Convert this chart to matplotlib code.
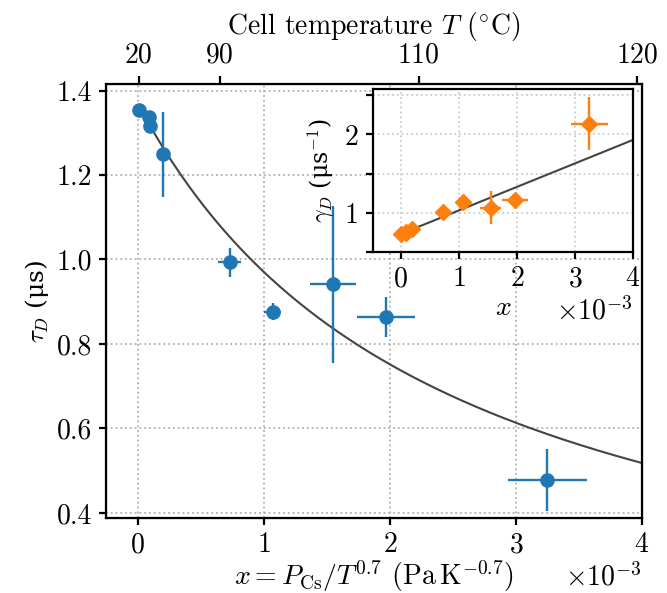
import matplotlib
matplotlib.use("Agg")
import matplotlib.pyplot as plt
import numpy as np

plt.rcParams['font.family'] = ['cmr10', 'DejaVu Serif']
plt.rcParams['mathtext.fontset'] = 'cm'
plt.rcParams['axes.formatter.use_mathtext'] = True
plt.rcParams['axes.unicode_minus'] = False
plt.rcParams['font.size'] = 20

# measured diffusion times vs. x = P_Cs / T^0.7
x = np.array([0.01, 0.09, 0.10, 0.20, 0.73, 1.07, 1.55, 1.97, 3.25]) * 1e-3
x_err = np.array([0.0, 0.0, 0.0, 0.02, 0.093, 0.068, 0.186, 0.23, 0.314]) * 1e-3
tau = [1.355, 1.338, 1.317, 1.249, 0.993, 0.876, 0.941, 0.864, 0.478]
tau_err = [0.0, 0.0, 0.0, 0.10, 0.035, 0.02, 0.185, 0.047, 0.073]

# decay rates (inset)
gamma = [0.726, 0.745, 0.76, 0.80, 1.005, 1.142, 1.064, 1.163, 2.138]
gamma_err = [0.0, 0.0, 0.0, 0.0, 0.0, 0.0, 0.21, 0.0, 0.34]

# linear fit gamma = g0 + k*x
g0 = 0.73
k = 0.30e3

# cell temperature axis
temp_pos = [0.008e-3, 0.65e-3, 2.23e-3, 3.96e-3]
temp_labels = ['20', '90', '110', '120']

blue = '#1f77b4'
orange = '#ff7f0e'
fitc = '#444444'
mu = '\u03bc'
# cmr10 has no usable mu, so labels with units use DejaVu Serif
unit_font = ['DejaVu Serif']

fig = plt.figure(figsize=(6.67, 5.93), dpi=100)
ax = fig.add_axes([0.159, 0.1265, 0.8035, 0.7315])

xf = np.linspace(0.1e-3, 4e-3, 200)
ax.plot(xf, 1 / (g0 + k * xf), color=fitc, lw=1.5, zorder=2)
ax.errorbar(x, tau, yerr=tau_err, xerr=x_err, fmt='o', color=blue, ms=9.5,
            elinewidth=1.7, capsize=0, zorder=3)

ax.set_xlim(-0.25e-3, 4e-3)
ax.set_ylim(0.388, 1.415)
ax.set_xticks([0, 1e-3, 2e-3, 3e-3, 4e-3])
ax.set_yticks([0.4, 0.6, 0.8, 1.0, 1.2, 1.4])
ax.set_yticklabels(['0.4', '0.6', '0.8', '1.0', '1.2', '1.4'])
ax.grid(True, ls=':', color='#b0b0b0', lw=1.3)
ax.set_xlabel(r'$x = P_{\mathrm{Cs}}/T^{0.7}$ (Pa$\,$K$^{-0.7}$)', labelpad=0)
ax.set_ylabel(r'$\tau_D$ (' + mu + 's)', labelpad=4, family=unit_font,
              fontsize=18)
ax.ticklabel_format(axis='x', style='sci', scilimits=(-3, -3))
for s in ax.spines.values():
    s.set_linewidth(1.6)
ax.tick_params(width=1.6, length=5, pad=5)

top = ax.twiny()
top.set_xlim(ax.get_xlim())
top.set_xticks(temp_pos)
top.set_xticklabels(temp_labels)
top.set_xlabel(r'Cell temperature $T$ ($^{\circ}$C)', labelpad=6)
top.tick_params(width=1.6, length=6, pad=5)

ins = fig.add_axes([0.5588, 0.575, 0.3902, 0.275])
xi = np.linspace(0.2e-3, 4e-3, 50)
ins.plot(xi, g0 + k * xi, color=fitc, lw=1.5, zorder=2)
ins.errorbar(x, gamma, yerr=gamma_err, xerr=x_err, fmt='D', color=orange,
             ms=8.5, elinewidth=1.7, capsize=0, zorder=3)
ins.set_xlim(-0.48e-3, 4e-3)
ins.set_ylim(0.5, 2.58)
ins.set_xticks([0, 1e-3, 2e-3, 3e-3, 4e-3])
ins.set_yticks([0.5, 1.0, 1.5, 2.0, 2.5])
ins.set_yticklabels(['', '1', '', '2', ''])
ins.grid(True, ls=':', color='#cccccc', lw=1.3)
ins.set_xlabel(r'$x$', labelpad=2)
ins.set_ylabel(r'$\gamma_D$ (' + mu + 's$^{-1}$)', labelpad=6,
               family=unit_font, fontsize=17)
ins.ticklabel_format(axis='x', style='sci', scilimits=(-3, -3))
for s in ins.spines.values():
    s.set_linewidth(1.6)
ins.tick_params(width=1.6, length=5, pad=5)

fig.savefig('out.png', dpi=100)
